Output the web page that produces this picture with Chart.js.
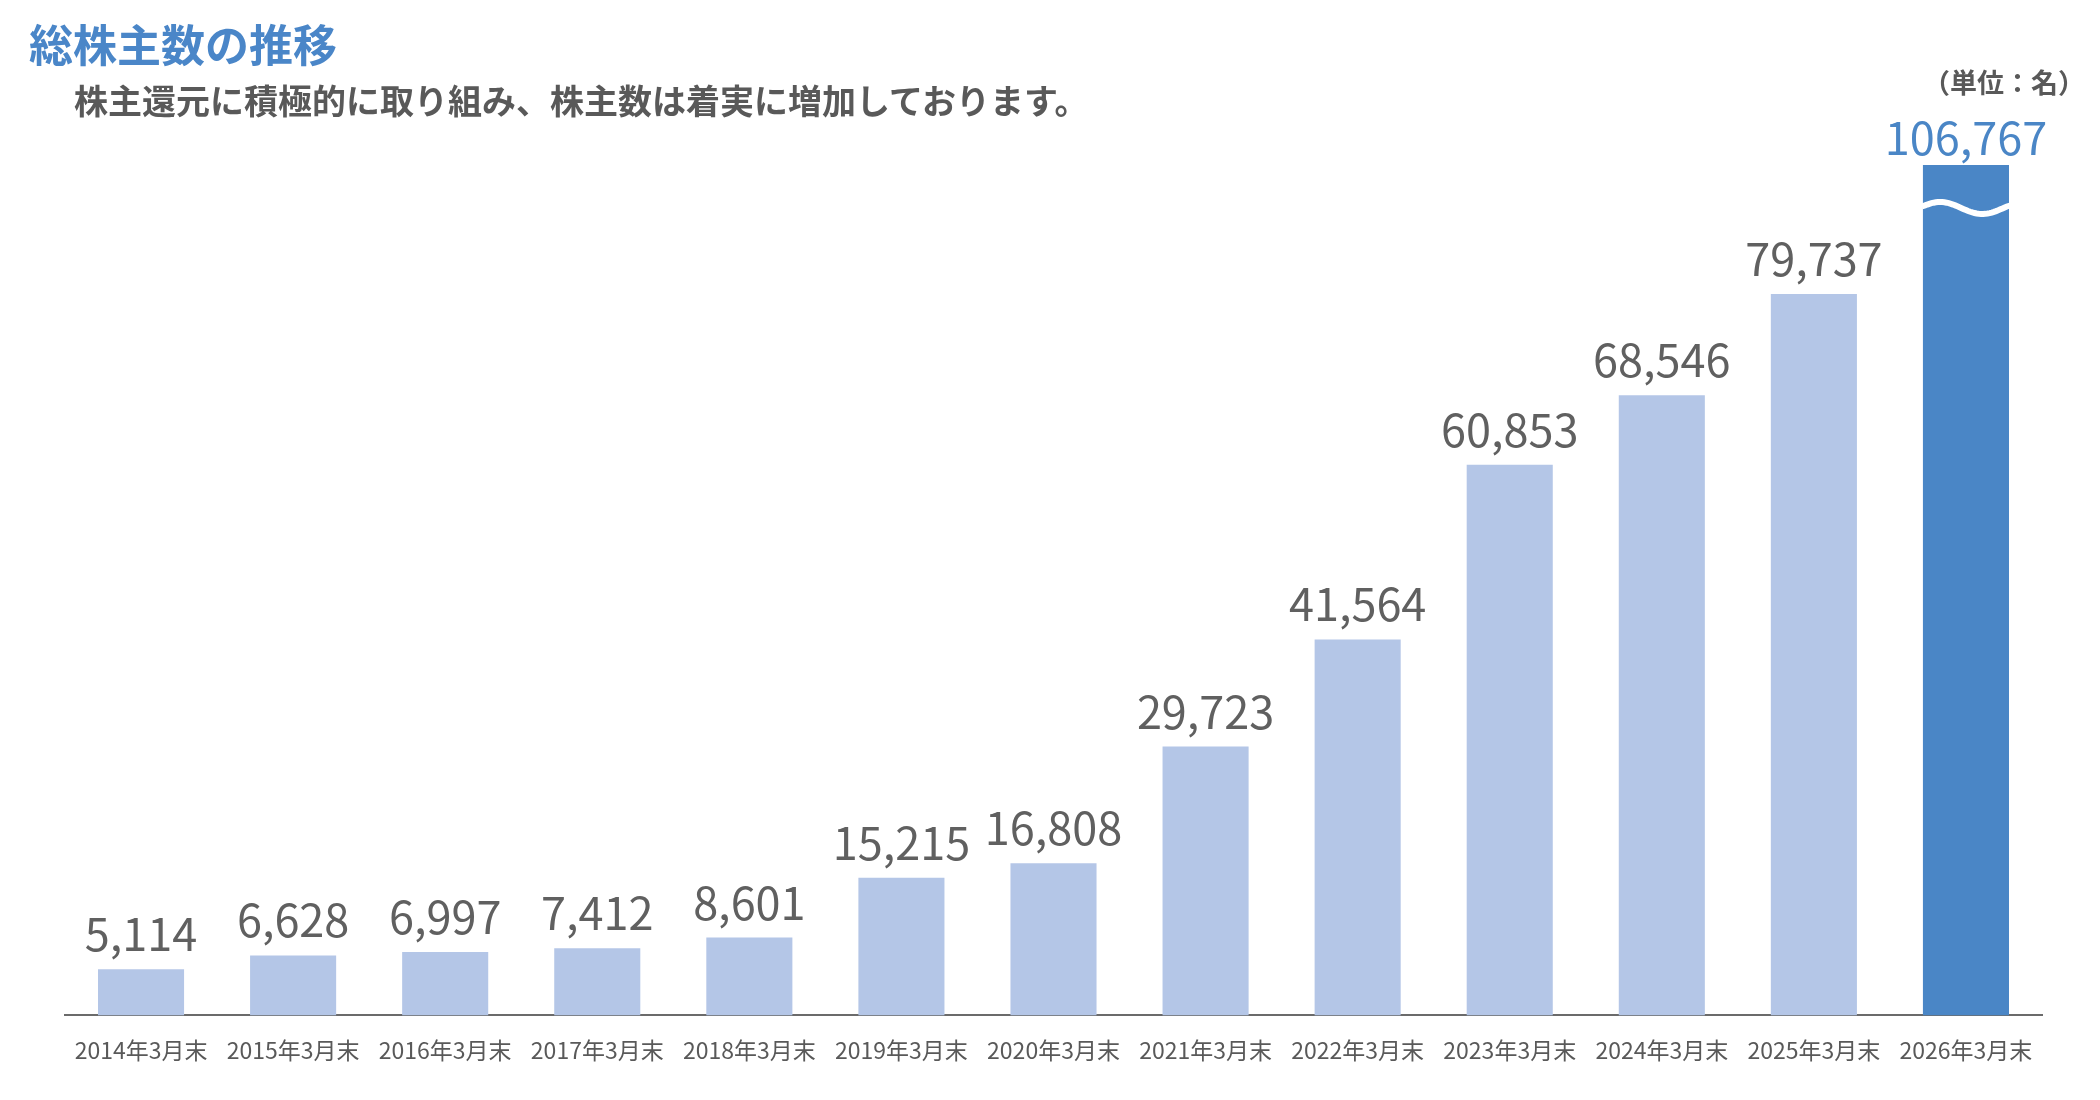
<!DOCTYPE html>
<html lang="ja">
<head>
<meta charset="utf-8">
<title>総株主数の推移</title>
<script src="https://cdn.jsdelivr.net/npm/chart.js@4.4.1/dist/chart.umd.min.js"></script>
<style>
  html, body { margin: 0; padding: 0; background: #fff; }
  #wrap { position: relative; width: 2100px; height: 1100px; font-family: "Noto Sans CJK JP", "Noto Sans", sans-serif; }
  #wrap canvas { position: absolute; left: 0; top: 0; }
  .txt { position: absolute; white-space: nowrap; line-height: 1; font-weight: bold; }
  #title { left: 29px; top: 21px; font-size: 44px; color: #4a86c8; }
  #subtitle { left: 74px; top: 83px; font-size: 34px; color: #595959; }
  #unit { right: 15px; top: 68px; font-size: 27px; color: #595959; }
</style>
</head>
<body>
<div id="wrap">
  <canvas id="chart" width="2100" height="1100"></canvas>
  <div class="txt" id="title">総株主数の推移</div>
  <div class="txt" id="subtitle">株主還元に積極的に取り組み、株主数は着実に増加しております。</div>
  <div class="txt" id="unit">（単位：名）</div>
</div>
<script>
// data
const categories = ['2014年3月末', '2015年3月末', '2016年3月末', '2017年3月末', '2018年3月末',
  '2019年3月末', '2020年3月末', '2021年3月末', '2022年3月末', '2023年3月末',
  '2024年3月末', '2025年3月末', '2026年3月末'];
const shareholders = [5114, 6628, 6997, 7412, 8601, 15215, 16808, 29723, 41564, 60853, 68546, 79737, 106767];

// the axis is broken above this value, the last bar gets cut off
const axisMax = 94000;

const lightBlue = '#b4c6e7';
const strongBlue = '#4a86c6';
const grey = '#595959';
const labelGrey = '#606060';
const lastIndex = shareholders.length - 1;

// value labels above each bar + the break mark on the last bar
const barLabels = {
  id: 'barLabels',
  afterDatasetsDraw(chart) {
    const ctx = chart.ctx;
    const area = chart.chartArea;
    const meta = chart.getDatasetMeta(0);
    ctx.save();
    ctx.textAlign = 'center';
    ctx.textBaseline = 'alphabetic';
    meta.data.forEach((bar, i) => {
      const top = Math.max(bar.y, area.top);
      const isLast = i === lastIndex;
      ctx.font = '45px "Noto Sans CJK JP"';
      ctx.fillStyle = isLast ? strongBlue : labelGrey;
      ctx.fillText(shareholders[i].toLocaleString('en-US'), bar.x, top - (isLast ? 10 : 18));
    });

    // wavy white break across the clipped bar
    const last = meta.data[lastIndex];
    const left = last.x - last.width / 2;
    const mid = area.top + 43;
    ctx.beginPath();
    for (let s = 0; s <= 40; s++) {
      const t = s / 40;
      const y = mid - 6 * Math.cos(2 * Math.PI * (t - 0.2) / 0.98);
      if (s === 0) ctx.moveTo(left - 1, y);
      else ctx.lineTo(left + t * last.width + (s === 40 ? 1 : 0), y);
    }
    ctx.strokeStyle = '#ffffff';
    ctx.lineWidth = 6;
    ctx.stroke();
    ctx.restore();
  }
};

const ctx = document.getElementById('chart').getContext('2d');
new Chart(ctx, {
  type: 'bar',
  data: {
    labels: categories,
    datasets: [{
      label: '総株主数',
      data: shareholders,
      backgroundColor: c => c.dataIndex === lastIndex ? strongBlue : lightBlue,
      borderWidth: 0,
      barPercentage: 0.566,
      categoryPercentage: 1.0,
      clip: 0
    }]
  },
  options: {
    responsive: false,
    devicePixelRatio: 1,
    animation: false,
    layout: {
      padding: { left: 65, right: 58, top: 165, bottom: 15 }
    },
    scales: {
      x: {
        grid: { display: false, drawTicks: false },
        border: { display: true, color: '#6b6b6b', width: 2 },
        ticks: {
          color: grey,
          padding: 21,
          maxRotation: 0,
          autoSkip: false,
          font: { family: '"Noto Sans CJK JP"', size: 23 }
        }
      },
      y: {
        display: false,
        min: 0,
        max: axisMax
      }
    },
    plugins: {
      legend: { display: false },
      tooltip: { enabled: false }
    }
  },
  plugins: [barLabels]
});
</script>
</body>
</html>
